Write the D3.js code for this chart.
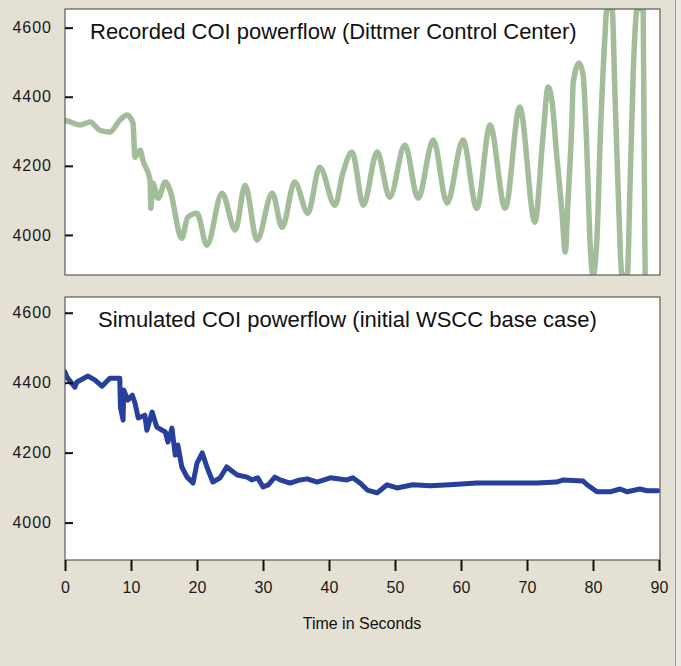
<html>
<head>
<style>
  body {
    margin: 0;
    background-color: #e4e0d4;
    font-family: Arial, "Liberation Sans", Helvetica, sans-serif;
  }
  svg { display: block; }
  .tick text { fill: #1a1a1a; }
</style>
<script src="https://cdn.jsdelivr.net/npm/d3@7"></script>
</head>
<body>
<svg id="chart"></svg>
<script>
// values (time in s, flow in MW)
const recordedTime = [0, 0.8, 2.3, 3.8, 5.3, 6.8, 8.3, 9.4, 10.3, 10.6, 11.4, 11.8, 12.9, 13.0, 13.3, 14.1, 15.2, 15.9,
  17.7, 18.6, 20.0, 21.5, 23.8, 25.8, 27.3, 29.1, 31.4, 32.9, 34.8, 36.8, 38.6, 40.9, 42.1, 43.5, 45.2, 47.3,
  49.2, 51.5, 53.5, 55.8, 57.9, 60.3, 62.4, 64.4, 66.7, 68.9, 71.2, 72.4, 73.2, 73.8, 74.5, 75.3, 75.8, 76.2,
  76.8, 77.0, 77.9, 78.5, 79.1, 79.5, 80.0, 80.6, 81.1, 81.8, 82.1, 82.9, 83.3, 83.8, 84.4, 85.2, 85.6, 86.1,
  86.7, 87.6, 87.9];
const recordedMW = [4332, 4327, 4318, 4327, 4303, 4298, 4332, 4347, 4324, 4225, 4245, 4216, 4158, 4077, 4150, 4106, 4153, 4130,
  3990, 4051, 4063, 3970, 4121, 4014, 4144, 3985, 4121, 4022, 4153, 4063, 4196, 4086, 4179, 4240, 4086, 4240,
  4109, 4260, 4106, 4275, 4092, 4275, 4077, 4318, 4077, 4370, 4037, 4280, 4428, 4385, 4231, 4066, 3950, 4095,
  4327, 4440, 4498, 4463, 4231, 3999, 3860, 3990, 4280, 4570, 4700, 4700, 4425, 4135, 3860, 3860, 4135, 4471,
  4700, 4700, 3860];

const simulatedTime = [0, 0.3, 1.5, 1.8, 3.5, 4.5, 5.6, 6.8, 8.3, 8.4, 8.8, 8.9, 9.5, 10.2, 10.6, 11.1, 12.1, 12.4,
  13.2, 13.9, 15.2, 15.6, 16.2, 16.7, 17.1, 17.7, 18.5, 19.4, 20.0, 20.8, 21.5, 22.4, 23.5, 24.5, 26.1, 27.6,
  28.3, 29.2, 30.0, 30.8, 31.8, 32.6, 34.1, 35.6, 36.7, 38.2, 40.2, 42.7, 43.6, 44.7, 45.8, 47.3, 48.8, 50.3,
  52.7, 55.3, 58.3, 62.4, 66.4, 71.5, 74.5, 75.5, 78.5, 79.1, 79.8, 80.6, 82.6, 84.1, 85.2, 87.1, 88.2, 89.8];
const simulatedMW = [4431, 4416, 4387, 4402, 4419, 4408, 4390, 4413, 4413, 4330, 4293, 4379, 4350, 4364, 4342, 4299, 4307, 4264,
  4316, 4273, 4259, 4230, 4270, 4193, 4222, 4159, 4130, 4113, 4170, 4199, 4159, 4116, 4128, 4159, 4136, 4130,
  4122, 4128, 4102, 4108, 4130, 4122, 4113, 4122, 4125, 4116, 4128, 4122, 4128, 4113, 4093, 4085, 4108, 4099,
  4108, 4105, 4108, 4113, 4113, 4113, 4116, 4122, 4119, 4108, 4099, 4088, 4088, 4096, 4088, 4096, 4091, 4091];

const xTicks = [0, 10, 20, 30, 40, 50, 60, 70, 80, 90];
const yTicks = [4000, 4200, 4400, 4600];
const recordedTitle = "Recorded COI powerflow (Dittmer Control Center)";
const simulatedTitle = "Simulated COI powerflow (initial WSCC base case)";
const xLabel = "Time in Seconds";

let width = 681, height = 666;
let left = 65, right = 659;

let svg = d3.select("#chart").attr("width", width).attr("height", height);

// window edge on the right
svg.append("rect").attr("x", 676).attr("y", 0).attr("width", 5).attr("height", height).attr("fill", "#ece9e1");
svg.append("line").attr("x1", 675.5).attr("x2", 675.5).attr("y1", 0).attr("y2", height)
  .attr("stroke", "#9c9a94").attr("stroke-width", 1);

let x = d3.scaleLinear().domain([0, 90]).range([left, right]);

function drawPanel(cfg) {
  let y = d3.scaleLinear().domain(cfg.domain).range([cfg.bottom, cfg.top]).clamp(true);
  let g = svg.append("g");

  g.append("rect")
    .attr("x", left).attr("y", cfg.top)
    .attr("width", 660 - left).attr("height", cfg.bottom - cfg.top)
    .attr("fill", "white");

  g.append("clipPath").attr("id", cfg.id)
    .append("rect")
    .attr("x", left).attr("y", cfg.top)
    .attr("width", 660 - left).attr("height", cfg.bottom - cfg.top);

  let line = d3.line()
    .curve(cfg.curve)
    .x(d => x(d[0]))
    .y(d => y(d[1]));

  g.append("path")
    .datum(d3.zip(cfg.time, cfg.values))
    .attr("clip-path", "url(#" + cfg.id + ")")
    .attr("d", line)
    .attr("fill", "none")
    .attr("stroke", cfg.color)
    .attr("stroke-width", cfg.strokeWidth)
    .attr("stroke-linejoin", "round")
    .attr("stroke-linecap", "round");

  // frame
  g.append("rect")
    .attr("x", left).attr("y", cfg.top)
    .attr("width", 660 - left).attr("height", cfg.bottom - cfg.top)
    .attr("fill", "none")
    .attr("stroke", "#5a5a5a")
    .attr("stroke-width", 1.2);

  let yAxis = d3.axisLeft(y).tickValues(yTicks).tickSize(-8).tickPadding(13).tickFormat(d3.format("d"));
  let ga = g.append("g").attr("transform", "translate(" + left + ",0)").call(yAxis);
  ga.select(".domain").remove();
  ga.selectAll(".tick line").attr("stroke", "#111").attr("stroke-width", 2);
  ga.selectAll(".tick text")
    .style("font-size", "16px")
    .style("letter-spacing", "1px")
    .style("font-family", "Arial, 'Liberation Sans', sans-serif");

  g.append("text")
    .attr("x", cfg.titleX).attr("y", cfg.titleY)
    .style("font-size", "22px")
    .attr("fill", "#111")
    .text(cfg.title);

  return y;
}

drawPanel({
  id: "clipTop", top: 9, bottom: 275, domain: [3884, 4654],
  time: recordedTime, values: recordedMW, color: "#a3bd9b", strokeWidth: 5.5,
  curve: d3.curveMonotoneX,
  title: recordedTitle, titleX: 90, titleY: 39
});

drawPanel({
  id: "clipBottom", top: 297, bottom: 560, domain: [3893, 4645],
  time: simulatedTime, values: simulatedMW, color: "#26409c", strokeWidth: 5,
  curve: d3.curveLinear,
  title: simulatedTitle, titleX: 98, titleY: 327
});

let xAxis = d3.axisBottom(x).tickValues(xTicks).tickSize(11).tickPadding(11);
let gx = svg.append("g").attr("transform", "translate(0,560)").call(xAxis);
gx.select(".domain").remove();
gx.selectAll(".tick line").attr("stroke", "#111").attr("stroke-width", 2);
gx.selectAll(".tick text")
  .style("font-size", "16px")
  .style("font-family", "Arial, 'Liberation Sans', sans-serif");

svg.append("text")
  .attr("x", 362).attr("y", 629)
  .attr("text-anchor", "middle")
  .style("font-size", "16px")
  .attr("fill", "#111")
  .text(xLabel);
</script>
</body>
</html>
